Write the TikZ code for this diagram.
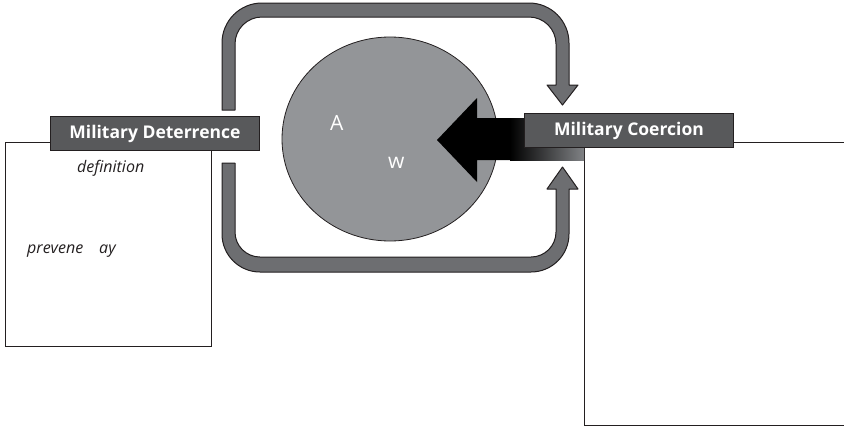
\documentclass[tikz,border=0pt]{standalone}
\usepackage{fontspec}
\setsansfont{Open Sans}
\usetikzlibrary{shapes.geometric}

\definecolor{bandgray}{HTML}{6D6E71}
\definecolor{edgegray}{HTML}{231F20}
\definecolor{blobgray}{HTML}{939598}
\definecolor{labelgray}{HTML}{58595B}
\definecolor{shaftgray}{HTML}{808285}

\tikzset{
    labelbox/.style={draw=edgegray, fill=labelgray, line width=1pt,
        text=white, font=\sffamily\bfseries\fontsize{17.5}{19}\selectfont,
        inner sep=0pt, minimum width=209pt, minimum height=34pt,
        anchor=north west},
    textbox/.style={draw=edgegray, line width=0.8pt, inner sep=0pt,
        anchor=north west},
    band/.style={draw=edgegray, fill=bandgray, line width=1pt,
        line join=round},
    note/.style={font=\sffamily\itshape\fontsize{16}{18}\selectfont,
        text=edgegray, anchor=base west, inner sep=0pt},
    blobtext/.style={font=\sffamily\fontsize{21}{23}\selectfont,
        text=white, anchor=base west, inner sep=0pt}
}

\begin{document}
\begin{tikzpicture}[x=1pt, y=-1pt]
        \useasboundingbox (0, 0) rectangle (844, 429);

        % the two text boxes
        \node[textbox, minimum width=206pt, minimum height=204pt]
            (detbox) at (5, 142) {};
        \node[textbox, minimum width=264pt, minimum height=283pt]
            (coebox) at (584, 142) {};
        \node[note] (def) at (77, 172) {definition};
        \node[note] (prev) at (27, 253) {prevene\hspace{16pt}ay};

        % upper loop
        \draw[band] (222, 110) [rounded corners=40pt] -- (222, 3) --
            (569, 3) [sharp corners] -- (569, 85) -- (578, 85) --
            (562.5, 105) -- (547, 85) -- (556, 85)
            [rounded corners=27pt] -- (556, 17) -- (235, 17)
            [sharp corners] -- (235, 110) -- cycle;

        % lower loop
        \draw[band] (222, 163) [rounded corners=38pt] -- (222, 272) --
            (569, 272) [sharp corners] -- (569, 189) -- (578, 189) --
            (562.5, 167) -- (547, 189) -- (556, 189)
            [rounded corners=25pt] -- (556, 257) -- (235, 257)
            [sharp corners] -- (235, 163) -- cycle;

        % the circle in the middle
        \node[ellipse, draw=edgegray, fill=blobgray, line width=0.8pt,
            minimum width=216pt, minimum height=204pt, inner sep=0pt]
            (blob) at (390, 139) {};
        \node[blobtext] (blobA) at (330, 130) {A};
        \node[blobtext] (blobw) at (388, 168) {w};

        % big black arrow
        \fill[black] (437, 140) -- (477, 98) -- (477, 118) --
            (512, 118) -- (512, 160) -- (477, 160) -- (477, 182) -- cycle;
        \shade[left color=black, right color=shaftgray]
            (510, 118) rectangle (584, 160);

        % labels
        \node[labelbox] (detlabel) at (50, 116) {Military Deterrence};
        \node[labelbox] (coelabel) at (524, 113) {Military Coercion};
\end{tikzpicture}
\end{document}
